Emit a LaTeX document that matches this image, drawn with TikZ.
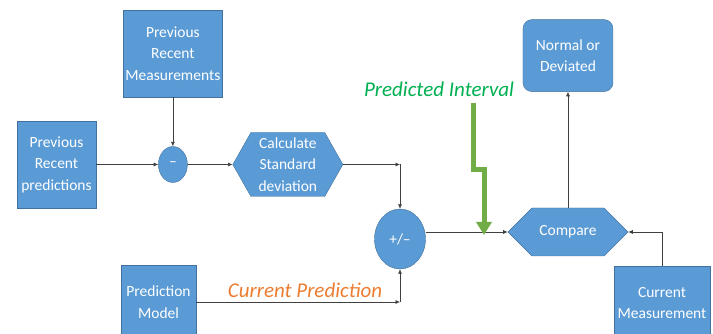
\documentclass[tikz,border=0pt]{standalone}
\usepackage{fontspec}
\setmainfont{Carlito}
\usepackage{tikz}
\usetikzlibrary{arrows.meta}
\usetikzlibrary{shapes,shapes.symbols,positioning}
\definecolor{boxfill}{HTML}{5B9BD5}
\definecolor{boxedge}{HTML}{41719C}
\definecolor{lblgreen}{HTML}{00B050}
\definecolor{arrgreen}{HTML}{70AD47}
\definecolor{lblorange}{HTML}{ED7D31}
\tikzset{flow-line/.style={line width=0.6pt, draw=black!75}}
\tikzset{>={Latex[length=4.5pt,width=4pt]}}
\tikzset{flow-box/.style={draw=boxedge, fill=boxfill, text=white, align=center, inner sep=0pt, font=\fontsize{15.5}{21.5}\selectfont}}
\tikzset{flow-hex/.style={flow-box, signal, signal to=west and east}}
\tikzset{flow-op/.style={flow-box, ellipse}}

\begin{document}
\begin{tikzpicture}[x=1pt, y=1pt]
            \useasboundingbox (0,0) rectangle (713,334);

            \node[flow-box, minimum width=79pt, minimum height=87pt] (prevpred) at (56.5,169.5) {Previous\\Recent\\predictions};
            \node[flow-op, minimum width=29pt, minimum height=36pt, right=62pt of prevpred] (minus) {--};
            \node[flow-box, minimum width=99pt, minimum height=87pt, above=49pt of minus] (prevmeas) {Previous\\Recent\\Measurements};
            \node[flow-hex, minimum width=110pt, minimum height=64pt, signal pointer angle=121, right=45pt of minus] (calc) {Calculate\\Standard\\deviation};

            \node[flow-op, minimum width=51pt, minimum height=60pt] (plusminus) at (400,95) {+/--};
            \node[flow-box, minimum width=75pt, minimum height=74pt] (predmodel) at (158.5,32) {Prediction\\Model};

            \node[flow-hex, minimum width=120pt, minimum height=48pt, signal pointer angle=90, right=82pt of plusminus.east, yshift=7pt, anchor=west] (compare) {Compare};
            \node[flow-box, minimum width=90pt, minimum height=72pt, rounded corners=9pt, above=116pt of compare] (normal) {Normal or\\Deviated};
            \node[flow-box, minimum width=96pt, minimum height=74pt] (curmeas) at (662,31) {Current\\Measurement};

            \coordinate (calccorner) at (plusminus.north |- calc.east);
            \coordinate (predcorner) at (plusminus.south |- predmodel.east);
            \coordinate (meascorner) at (curmeas.north |- compare.east);

            \node[font=\fontsize{21}{25}\selectfont\itshape, text=lblgreen] (intlabel) at (439,245) {Predicted Interval};
            \node[font=\fontsize{21}{25}\selectfont\itshape, text=lblorange] (predlabel) at (305,44) {Current Prediction};

            \draw[->, flow-line] (prevpred) -- (minus);
            \draw[->, flow-line] (prevmeas) -- (minus);
            \draw[->, flow-line] (minus) -- (calc);

            \draw[->, flow-line] (calc.east) -- (calccorner);
            \draw[->, flow-line] (calccorner) -- (plusminus.north);
            \draw[->, flow-line] (predmodel.east) -- (predcorner);
            \draw[->, flow-line] (predcorner) -- (plusminus.south);

            \draw[->, flow-line] (plusminus.east |- compare.west) -- (compare.west);
            \draw[->, flow-line] (compare.north) -- (normal.south);
            \draw[->, flow-line] (curmeas.north) -- (meascorner) -- (compare.east);

            \draw[arrgreen, line width=5pt, -{Triangle[length=13pt,width=15pt]}] (473,231) -- (473,164) -- (484,164) -- (484,99);
        \end{tikzpicture}
\end{document}
